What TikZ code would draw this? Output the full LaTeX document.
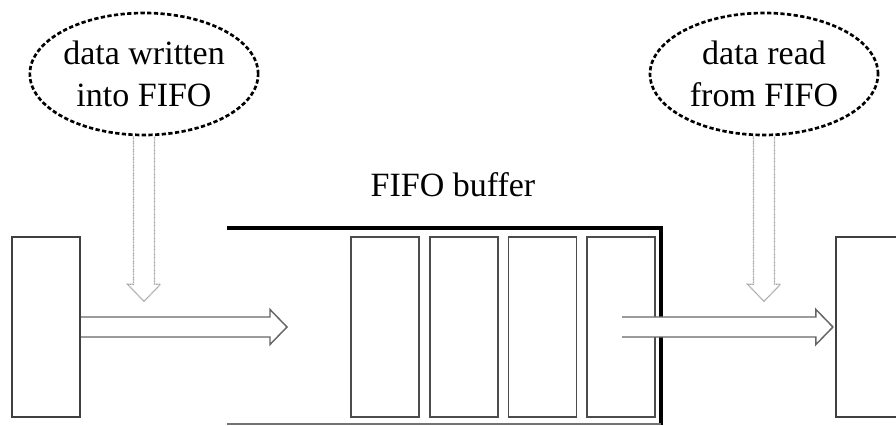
\documentclass[tikz,border=0pt]{standalone}
\usepackage{fontspec}
\setmainfont{Liberation Serif}
\usetikzlibrary{positioning,calc,shapes.geometric}

\begin{document}
\begin{tikzpicture}[
            x = 0.75pt, y = 0.75pt, % one unit per pixel
            font = \fontsize{25.5pt}{31.5pt}\selectfont,
            box/.style = {draw=black!75, line width=1.6pt, minimum width=51pt,
                          minimum height=135pt, inner sep=0pt}, % producer / consumer
            cell/.style = {draw=black!70, line width=1.3pt, minimum width=51pt,
                           minimum height=135pt, inner sep=0pt}, % one FIFO slot
            note/.style = {ellipse, draw, line width=2pt, dash pattern=on 3.2pt off 1.8pt,
                           minimum width=171pt, minimum height=91.5pt, align=center, inner sep=0pt},
            wall/.style = {line width=2.8pt}, % buffer housing
            flow/.style = {draw=black!60, line width=1.1pt, fill=white, line join=miter}, % hollow data arrow
            hint/.style = {draw=black!35, line width=0.9pt, dash pattern=on 0.8pt off 0.4pt} % light pointer arrow
        ]

	\useasboundingbox (0,0) rectangle (896,425);

	% writer and reader
	\node[box] (writer) at (46,98) {};
	\node[box, minimum width=90pt] (reader) at (896,98) {};

	% the four slots
	\node[cell] (c1) at (385,98) {};
	\node[cell, right=6.75pt of c1] (c2) {};
	\node[cell, right=6.75pt of c2] (c3) {};
	\node[cell, right=6.75pt of c3] (c4) {};

	% housing
	\draw[wall] (227,197) -- (661,197) -- (661,0);
	\draw[black!55, line width=0.9pt] (227,1) -- (661,1);
	\node[anchor=base] (bufLabel) at (453,228) {FIFO buffer};

	% notes
	\node[note] (inNote) at (144,351) {data written\\into FIFO};
	\node[note] (outNote) at (764,351) {data read\\from FIFO};

	% data going in
	\coordinate (inTip) at (287,98);
	\filldraw[flow] ($(writer.east)+(0,10)$) -- ($(inTip)+(-17,10)$) -- ++(0,7.5)
		-- (inTip) -- ++(-17,-17.5) -- ++(0,7.5) -- ($(writer.east)+(0,-10)$);

	% data going out
	\coordinate (outTip) at ($(reader.west)+(-2,0)$);
	\filldraw[flow] ($(c4.center)+(1,10)$) -- ($(outTip)+(-17,10)$) -- ++(0,7.5)
		-- (outTip) -- ++(-17,-17.5) -- ++(0,7.5) -- ($(c4.center)+(1,-10)$);

	% pointers from the notes
	\coordinate (inDrop) at ($(inNote.south)+(0,-165)$);
	\draw[hint] ($(inNote.south)+(-10.5,0)$) -- ($(inDrop)+(-10.5,17)$) -- ++(-6,0)
		-- (inDrop) -- ++(16.5,17) -- ++(-6,0) -- ($(inNote.south)+(10.5,0)$);

	\coordinate (outDrop) at ($(outNote.south)+(0,-165)$);
	\draw[hint] ($(outNote.south)+(-10.5,0)$) -- ($(outDrop)+(-10.5,17)$) -- ++(-6,0)
		-- (outDrop) -- ++(16.5,17) -- ++(-6,0) -- ($(outNote.south)+(10.5,0)$);

\end{tikzpicture}
\end{document}
